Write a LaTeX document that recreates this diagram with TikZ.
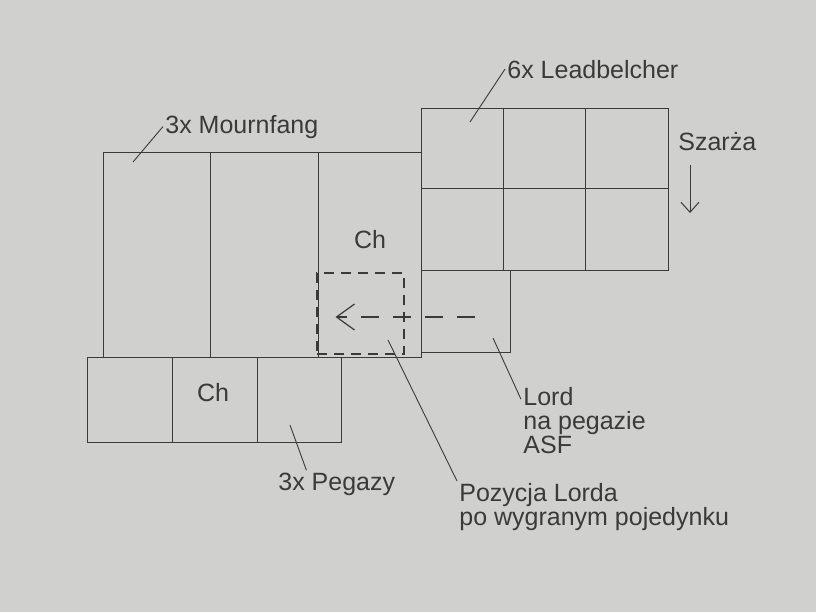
\documentclass[tikz,border=0pt]{standalone}
\usepackage{fontspec}
\setmainfont{Liberation Sans}
\usepackage{tikz}
\usetikzlibrary{arrows.meta,positioning,fit,calc}
\usepackage{xcolor}
\definecolor{paper}{HTML}{D0D0CE}
\definecolor{pencil}{HTML}{3A3A3A}
\tikzset{
  cell/.style={
    draw=pencil,
    line width=0.45pt,
    inner sep=0pt,
    outer sep=0pt
  },
  newpos/.style={
    draw=pencil,
    line width=0.7pt,
    dash pattern=on 5pt off 3.5pt,
    inner sep=0pt
  },
  note/.style={
    text=pencil,
    font=\fontsize{12.5}{12}\selectfont,
    inner sep=1pt,
    align=left
  },
  leader/.style={
    draw=pencil,
    line width=0.45pt
  },
  movearrow/.style={
    -{Straight Barb[length=9pt,width=13pt]},
    draw=pencil,
    line width=0.6pt,
    dash pattern=on 9pt off 7pt
  },
  chargearrow/.style={
    -{Straight Barb[length=5pt,width=9pt]},
    draw=pencil,
    line width=0.5pt
  }
}

\begin{document}
\begin{tikzpicture}[x=0.5pt, y=-0.5pt]
\fill[paper] (0,0) rectangle (816,612);
% Mournfang
\node[cell, fit={(103,152) (210,357)}] (mf1) {};
\node[cell, fit={(210,152) (318,357)}] (mf2) {};
\node[cell, fit={(318,152) (421,357)}] (mf3) {};
\node[note] (chmf) at (370,240) {Ch};
% Leadbelcher
\node[cell, fit={(421,108) (503,188)}] (lb1) {};
\node[cell, fit={(503,108) (585,188)}] (lb2) {};
\node[cell, fit={(585,108) (668,188)}] (lb3) {};
\node[cell, fit={(421,188) (503,270)}] (lb4) {};
\node[cell, fit={(503,188) (585,270)}] (lb5) {};
\node[cell, fit={(585,188) (668,270)}] (lb6) {};
% Lord
\node[cell, fit={(421,270) (510,352)}] (lord) {};
\node[newpos, fit={(317,273) (404,354)}] (lordnew) {};
% Pegazy
\node[cell, fit={(87,357) (172,442)}] (pg1) {};
\node[cell, fit={(172,357) (257,442)}] (pg2) {};
\node[cell, fit={(257,357) (341,442)}] (pg3) {};
\node[note] (chpg) at (213,393) {Ch};
% labels
\node[note, anchor=base west] (mourn) at (163,133) {3x Mournfang};
\node[note, anchor=base west] (lead) at (505,78) {6x Leadbelcher};
\node[note, anchor=base west] (szarza) at (676,150) {Szarża};
\node[note, anchor=north west] (lordlbl) at (521,385) {Lord\\na pegazie\\ASF};
\node[note, anchor=base west] (pegazy) at (276,490) {3x Pegazy};
\node[note, anchor=north west] (pozlbl) at (457,481) {Pozycja Lorda\\po wygranym pojedynku};
\coordinate (mfpt) at (133,162);
\coordinate (lbpt) at (470,122);
\coordinate (chgend) at (690,213);
\coordinate (lordpt) at (493,338);
\coordinate (pgpt) at (290,425);
\coordinate (pozpt) at (388,340);
\draw[leader] (mourn.west) -- (mfpt);
\draw[leader] (lead.west) -- (lbpt);
\draw[chargearrow] ([yshift=-6pt]chgend |- szarza.south) -- (chgend);
\draw[leader] (lordpt) -- ($(lordlbl.north west)!0.2!(lordlbl.south west)$);
\draw[leader] (pgpt) -- ($(pegazy.north west)!0.25!(pegazy.north east)$);
\draw[leader] (pozpt) -- (pozlbl.north west);
\draw[movearrow] ([shift={(9,6)}]lord.center) -- ([shift={(-25,3.5)}]lordnew.center);
\end{tikzpicture}
\end{document}
